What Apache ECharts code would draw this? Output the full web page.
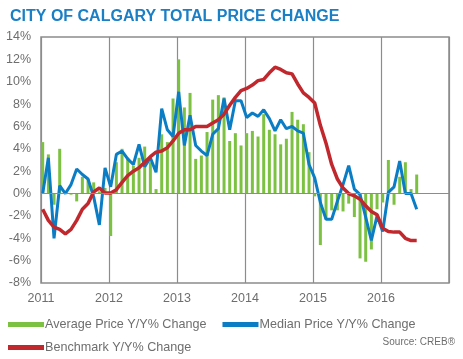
<!DOCTYPE html>
<html>
<head>
<meta charset="utf-8">
<script src="https://cdn.jsdelivr.net/npm/echarts@6/dist/echarts.min.js"></script>
<style>
html,body{margin:0;padding:0;background:#fff;}
#c{width:463px;height:359px;}
</style>
</head>
<body>
<div id="c"></div>
<script>
// Months since Jan 2011 (index 0 = Jan 2011)
var yearLabels = ['2011','2012','2013','2014','2015','2016'];
var averageChange = [
  4.6, 3.5, -1.0, 4.0, 0.1, -0.1, -0.7, 1.5, 1.3, 1.0, 0.2, 0.5,
  -3.8, 2.8, 4.0, 3.2, 2.5, 3.2, 4.2, 2.8, 0.4, 5.3, 4.6, 8.5,
  12.0, 7.7, 9.0, 3.1, 3.4, 5.5, 8.4, 8.8, 8.6, 4.7, 5.4, 4.3,
  5.4, 5.6, 5.1, 7.1, 5.7, 5.3, 4.4, 4.9, 7.3, 6.6, 6.2, 3.7,
  -0.25, -4.6, -2.3, -1.5, -1.5, -1.6, -0.9, -2.1, -5.8, -6.1, -5.0, -1.4,
  -0.8, 3.0, -1.0, 1.5, 2.8, 0.4, 1.7
];
var medianChange = [
  0.0, 3.2, -4.0, 0.7, 0.0, 0.8, 2.2, 1.7, 1.3, -0.3, -2.8, 2.3,
  0.6, 3.5, 3.8, 3.1, 2.6, 4.4, 2.4, 3.2, 1.9, 7.6, 5.7, 5.1,
  9.1, 4.3, 7.0, 4.3, 3.8, 3.4, 5.3, 5.8, 8.5, 5.7, 8.3, 8.3,
  6.8, 7.2, 6.9, 7.5, 6.7, 5.6, 6.6, 5.8, 6.0, 5.6, 5.4, 2.6,
  1.4, -0.8, -2.3, -2.3, -0.7, 0.8, 2.5, 0.4, -0.1, -2.1, -4.2, -2.0,
  -3.4, 0.1, 0.6, 2.9, 0.0, 0.0, -1.4
];
var benchmarkChange = [
  -1.4, -2.4, -3.0, -3.2, -3.6, -3.2, -2.4, -1.4, -0.9, 0.15, 0.5, 0.05,
  0.05, 0.35, 1.0, 1.6, 2.0, 2.3, 2.8, 3.3, 3.7, 3.8, 4.1, 4.7,
  5.4, 5.7, 5.7, 6.0, 6.0, 6.0, 6.3, 6.6, 7.1, 7.9, 8.6, 9.2,
  9.4, 9.7, 10.1, 10.2, 10.8, 11.3, 11.1, 10.8, 10.7, 9.8, 9.0, 8.6,
  8.1, 6.1, 4.5, 2.6, 1.3, 0.5, 0.0, -0.2, -0.5, -1.1, -1.6, -1.9,
  -3.1, -3.4, -3.45, -3.45, -4.0, -4.2, -4.2
];
var seriesNames = ['Average Price Y/Y% Change', 'Median Price Y/Y% Change', 'Benchmark Y/Y% Change'];

function toPoints(arr){
  return arr.map(function(v, i){ return [i + 0.3, v]; });
}

var chart = echarts.init(document.getElementById('c'), null, {renderer:'canvas'});
var axisGray = '#8c8c8c';
var textGray = '#6e6e6e';
var font = 'Liberation Sans, Arial, sans-serif';

chart.setOption({
  animation: false,
  title: {
    text: 'CITY OF CALGARY TOTAL PRICE CHANGE',
    left: 5, top: 4,
    textStyle: {color:'#1b7fc6', fontSize:16, fontWeight:'bold', fontFamily: font}
  },
  legend: [
    {
      data: [seriesNames[0], seriesNames[1]],
      left: 3, top: 313, itemWidth: 36, itemHeight: 5, itemGap: 16,
      icon: 'rect',
      textStyle: {color: textGray, fontSize: 12.6, fontFamily: font, padding:[0,0,0,-4]}
    },
    {
      data: [seriesNames[2]],
      left: 3, top: 336, itemWidth: 36, itemHeight: 5,
      icon: 'rect',
      textStyle: {color: textGray, fontSize: 12.6, fontFamily: font, padding:[0,0,0,-4]}
    }
  ],
  graphic: [{
    type: 'text', right: 8, top: 337,
    style: {text: 'Source: CREB®', fill: textGray, font: '10px Liberation Sans, Arial, sans-serif'}
  }],
  grid: {left: 41, right: 14, top: 37, bottom: 76, show: true, borderColor: axisGray, borderWidth: 1.5},
  xAxis: {
    type: 'value', min: 0, max: 72, interval: 12,
    axisLine: {show: false},
    axisTick: {show: false},
    splitLine: {show: true, lineStyle: {color: axisGray, width: 1.2}},
    axisLabel: {
      color: textGray, fontSize: 12.5, fontFamily: font, margin: 9,
      formatter: function(v){ var k = Math.round(v/12); return yearLabels[k] || ''; }
    }
  },
  yAxis: {
    type: 'value', min: -8, max: 14, interval: 2,
    axisLine: {show: false},
    axisTick: {show: false},
    splitLine: {show: false},
    axisLabel: {color: textGray, fontSize: 12.5, fontFamily: font, margin: 10, formatter: '{value}%'}
  },
  series: [
    {
      name: seriesNames[0], type: 'bar', barWidth: 3,
      itemStyle: {color: '#7dc142'},
      data: toPoints(averageChange),
      markLine: {
        silent: true, symbol: 'none', label: {show: false},
        lineStyle: {color: axisGray, type: 'solid', width: 1.2},
        data: [{yAxis: 0}]
      },
      z: 2
    },
    {
      name: seriesNames[1], type: 'line', symbol: 'none',
      lineStyle: {color: '#0b7dc5', width: 3},
      itemStyle: {color: '#0b7dc5'},
      data: toPoints(medianChange), z: 3
    },
    {
      name: seriesNames[2], type: 'line', symbol: 'none',
      lineStyle: {color: '#c0282d', width: 3.5},
      itemStyle: {color: '#c0282d'},
      data: toPoints(benchmarkChange), z: 4
    }
  ]
});
</script>
</body>
</html>
